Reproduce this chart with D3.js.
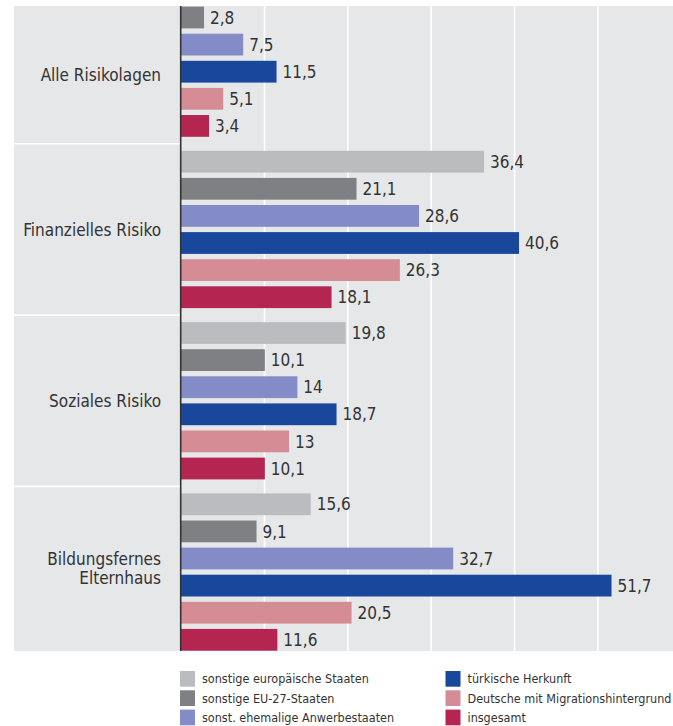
<!DOCTYPE html>
<html>
<head>
<meta charset="utf-8">
<script src="https://cdn.jsdelivr.net/npm/d3@7"></script>
<style>
  body { margin: 0; background: #ffffff; }
  svg { display: block; font-family: "DejaVu Sans Condensed", "DejaVu Sans", sans-serif; }
</style>
</head>
<body>
<script>
//Categories (groups) shown on the left, top to bottom
var categories = ["Alle Risikolagen", "Finanzielles Risiko", "Soziales Risiko", "Bildungsfernes Elternhaus"];
var categoryLines = [["Alle Risikolagen"], ["Finanzielles Risiko"], ["Soziales Risiko"], ["Bildungsfernes", "Elternhaus"]];

//Series names in the order the bars appear inside each group
var seriesNames = [
  "sonstige europäische Staaten",
  "sonstige EU-27-Staaten",
  "sonst. ehemalige Anwerbestaaten",
  "türkische Herkunft",
  "Deutsche mit Migrationshintergrund",
  "insgesamt"
];
var seriesColors = ["#bbbcbf", "#7f8083", "#838cc6", "#19479c", "#d58c94", "#b52551"];

//Values per series, one per category (first bar of the first group is cut off in the picture)
var europaValues = [null, 36.4, 19.8, 15.6];
var eu27Values = [2.8, 21.1, 10.1, 9.1];
var anwerbeValues = [7.5, 28.6, 14, 32.7];
var tuerkeiValues = [11.5, 40.6, 18.7, 51.7];
var deutscheValues = [5.1, 26.3, 13, 20.5];
var insgesamtValues = [3.4, 18.1, 10.1, 11.6];

//Gridline values on the value axis
var gridTicks = [10, 20, 30, 40, 50];

function main(){

  var w = 673;
  var h = 726;
  var plotLeft = 14;
  var plotTop = 6;
  var plotBottom = 651;
  var labelRight = 161;

  var seriesValues = [europaValues, eu27Values, anwerbeValues, tuerkeiValues, deutscheValues, insgesamtValues];

  //Building rows of {cat, s, value} for every bar
  var bars = [];
  for (var c = 0; c < categories.length; c++){
    for (var s = 0; s < seriesNames.length; s++){
      if (seriesValues[s][c] != null){
        bars.push({cat: categories[c], s: s, value: seriesValues[s][c]});
      }
    }
  }

  var x = d3.scaleLinear().domain([0, 60]).range([180.7, 680.7]);

  //the chart is cropped at the top, so the group band starts above the picture
  var yGroup = d3.scaleBand()
    .domain(categories)
    .range([-27.5, 657.7])
    .paddingInner(0.0817)
    .paddingOuter(0.04085);

  var ySeries = d3.scaleBand()
    .domain(d3.range(seriesNames.length))
    .range([0, yGroup.bandwidth()])
    .paddingInner(0.196)
    .paddingOuter(0);

  var fmt = function(v){ return String(v).replace(".", ","); };

  var svg = d3.select("body")
    .append("svg")
    .attr("width", w)
    .attr("height", h);

  svg.append("defs").append("clipPath")
    .attr("id", "plotclip")
    .append("rect")
    .attr("x", plotLeft)
    .attr("y", plotTop)
    .attr("width", w - plotLeft)
    .attr("height", plotBottom - plotTop);

  //gray background for labels and plot
  svg.append("rect")
    .attr("x", plotLeft)
    .attr("y", plotTop)
    .attr("width", w - plotLeft)
    .attr("height", plotBottom - plotTop)
    .attr("fill", "#e6e7e9");

  //white gridlines via the axis
  var grid = svg.append("g")
    .attr("transform", "translate(0," + (plotBottom + 2) + ")")
    .call(d3.axisBottom(x).tickValues(gridTicks).tickSize(-(plotBottom + 2 - plotTop)).tickFormat(""));
  grid.select(".domain").remove();
  grid.selectAll(".tick line").attr("stroke", "#ffffff").attr("stroke-width", 1.6);

  //separators between groups in the label column
  var seps = categories.slice(1).map(function(d){
    return yGroup(d) - yGroup.step() * yGroup.paddingInner() / 2;
  });
  svg.selectAll("line.sep")
    .data(seps)
    .enter()
    .append("line")
    .attr("class", "sep")
    .attr("x1", plotLeft)
    .attr("x2", x(0))
    .attr("y1", function(d){ return d; })
    .attr("y2", function(d){ return d; })
    .attr("stroke", "#ffffff")
    .attr("stroke-width", 1.6);

  var plot = svg.append("g").attr("clip-path", "url(#plotclip)");

  plot.selectAll("rect.bar")
    .data(bars)
    .enter()
    .append("rect")
    .attr("class", "bar")
    .attr("x", x(0))
    .attr("y", function(d){ return yGroup(d.cat) + ySeries(d.s); })
    .attr("width", function(d){ return x(d.value) - x(0); })
    .attr("height", ySeries.bandwidth())
    .attr("fill", function(d){ return seriesColors[d.s]; });

  plot.selectAll("text.val")
    .data(bars)
    .enter()
    .append("text")
    .attr("class", "val")
    .attr("x", function(d){ return x(d.value) + 6; })
    .attr("y", function(d){ return yGroup(d.cat) + ySeries(d.s) + ySeries.bandwidth() / 2; })
    .attr("dy", "0.36em")
    .attr("font-size", 17)
    .attr("fill", "#333333")
    .text(function(d){ return fmt(d.value); });

  //value axis line
  svg.append("line")
    .attr("x1", x(0))
    .attr("x2", x(0))
    .attr("y1", plotTop)
    .attr("y2", plotBottom)
    .attr("stroke", "#333333")
    .attr("stroke-width", 1.6);

  //category labels centred in the visible part of each group
  var bounds = [plotTop].concat(seps).concat([plotBottom]);
  var catLabels = svg.selectAll("text.cat")
    .data(categories)
    .enter()
    .append("text")
    .attr("class", "cat")
    .attr("text-anchor", "end")
    .attr("font-size", 17)
    .attr("fill", "#333333");

  catLabels.each(function(d, i){
    var lines = categoryLines[i];
    var mid = (bounds[i] + bounds[i + 1]) / 2;
    var lineH = 19;
    var first = mid - (lines.length - 1) * lineH / 2;
    d3.select(this).selectAll("tspan")
      .data(lines)
      .enter()
      .append("tspan")
      .attr("x", labelRight)
      .attr("y", function(l, j){ return first + j * lineH; })
      .attr("dy", "0.36em")
      .text(function(l){ return l; });
  });

  //legend, two columns of three
  var legend = svg.selectAll("g.leg")
    .data(seriesNames)
    .enter()
    .append("g")
    .attr("class", "leg")
    .attr("transform", function(d, i){
      var col = Math.floor(i / 3);
      var row = i % 3;
      return "translate(" + (col == 0 ? 180 : 445.5) + "," + (671 + row * 19.3) + ")";
    });

  legend.append("rect")
    .attr("width", 15)
    .attr("height", 15.7)
    .attr("fill", function(d, i){ return seriesColors[i]; });

  legend.append("text")
    .attr("x", 22)
    .attr("y", 7.85)
    .attr("dy", "0.36em")
    .attr("font-size", 12.5)
    .attr("fill", "#333333")
    .text(function(d){ return d; });
}

window.onload = function() {
  main();
};
</script>
</body>
</html>
